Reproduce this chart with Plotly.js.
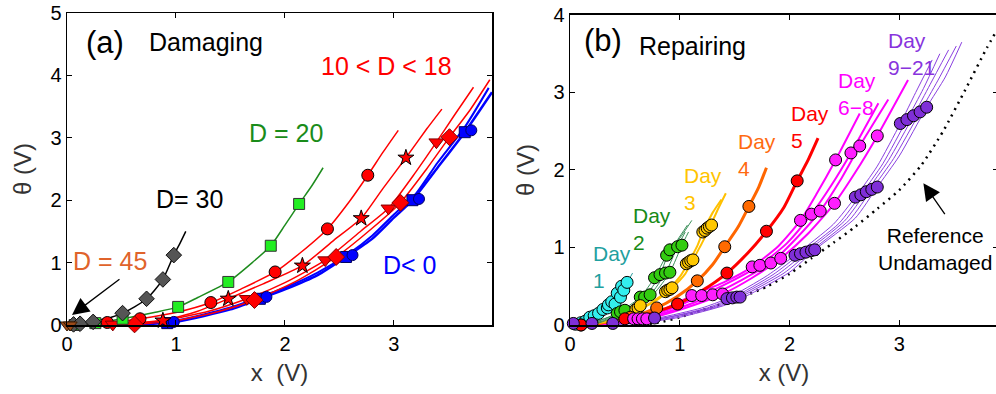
<!DOCTYPE html>
<html><head><meta charset="utf-8">
<script src="https://cdn.plot.ly/plotly-3.0.1.min.js"></script>
<style>html,body{margin:0;padding:0;overflow:hidden;background:#fff}#chart{width:1000px;height:394px}</style>
</head><body><div id="chart"></div>
<script>
// ---------------- Panel (a) Damaging ----------------
const aBlueX1 = [0,0.5,1.0,1.5,1.77,2.0,2.3,2.56,2.8,3.0,3.17,3.4,3.65,3.9];
const aBlueY1 = [0,0.0,0.05,0.25,0.42,0.57,0.8,1.09,1.38,1.72,2.0,2.52,3.09,3.73];
const aBlueX2 = [0,0.5,1.0,1.5,1.8,2.0,2.3,2.6,2.8,3.0,3.2,3.4,3.65,3.87];
const aBlueY2 = [0,0.01,0.07,0.28,0.47,0.6,0.84,1.16,1.43,1.77,2.1,2.6,3.17,3.8];
const aBlueSqX = [0.92,1.77,2.56,3.17,3.65];
const aBlueSqY = [0.03,0.42,1.09,2.0,3.09];
const aBlueCiX = [0.98,1.83,2.62,3.23,3.71];
const aBlueCiY = [0.05,0.45,1.12,2.02,3.12];

const aRedCircX = [0,0.3,0.67,1.0,1.32,1.6,1.91,2.15,2.39,2.6,2.76,2.9,3.04];
const aRedCircY = [0,0.02,0.1,0.2,0.36,0.58,0.85,1.17,1.54,2.0,2.40,2.77,3.12];
const aRedCircMX = [0.37,0.67,1.32,1.91,2.39,2.76];
const aRedCircMY = [0.04,0.1,0.36,0.85,1.54,2.40];

const aRedStarX = [0,0.5,0.88,1.2,1.48,1.8,2.16,2.45,2.70,2.9,3.11,3.3,3.44];
const aRedStarY = [0,0.02,0.07,0.22,0.42,0.66,0.95,1.36,1.71,2.19,2.68,3.14,3.46];
const aRedStarMX = [0.88,1.48,2.16,2.70,3.11];
const aRedStarMY = [0.07,0.42,0.95,1.71,2.68];

const aRedTriX = [0,0.42,0.9,1.3,1.65,2.0,2.37,2.7,2.95,3.2,3.39,3.55,3.73];
const aRedTriY = [0,0.01,0.08,0.22,0.42,0.68,1.04,1.51,1.87,2.45,2.93,3.35,3.81];
const aRedTriMX = [0.42,1.65,2.37,2.95,3.39];
const aRedTriMY = [0.01,0.42,1.04,1.87,2.93];

const aRedDiaX = [0,0.6,1.0,1.4,1.72,2.1,2.47,2.8,3.06,3.3,3.51,3.7,3.88];
const aRedDiaY = [0,0.01,0.07,0.22,0.4,0.7,1.09,1.55,1.96,2.5,3.01,3.45,3.93];
const aRedDiaMX = [0.62,1.72,2.47,3.06,3.51];
const aRedDiaMY = [0.01,0.4,1.09,1.96,3.01];

const aGreenX = [0,0.26,0.51,0.8,1.02,1.2,1.48,1.7,1.87,2.0,2.13,2.25,2.35];
const aGreenY = [0,0.03,0.1,0.2,0.29,0.44,0.69,1.0,1.27,1.6,1.94,2.24,2.52];
const aGreenMX = [0.07,0.26,0.51,1.02,1.48,1.87,2.13];
const aGreenMY = [0.0,0.03,0.1,0.29,0.69,1.27,1.94];

const aBlackX = [0,0.14,0.24,0.4,0.51,0.62,0.73,0.8,0.88,0.98,1.04,1.09];
const aBlackY = [0,0.03,0.06,0.12,0.19,0.29,0.42,0.55,0.73,1.12,1.32,1.5];
const aBlackMX = [0.06,0.12,0.24,0.51,0.73,0.88,0.98];
const aBlackMY = [0.01,0.02,0.05,0.19,0.42,0.73,1.12];

const aBrownX = [0,0.03,0.1];
const aBrownY = [0,0,0.01];

// ---------------- Panel (b) Repairing ----------------
const bRefX = [0.6,0.8,1.0,1.2,1.4,1.6,1.8,2.0,2.2,2.4,2.6,2.8,3.0,3.2,3.4,3.6,3.8,3.88];
const bRefY = [0.0,0.03,0.1,0.19,0.28,0.38,0.5,0.66,0.86,1.06,1.27,1.5,1.74,2.06,2.5,3.03,3.58,3.78];

const bPurX1 = [0,0.4,0.8,1.2,1.43,1.8,2.05,2.4,2.6,2.8,3.01,3.15,3.3];
const bPurY1 = [0,0.02,0.09,0.22,0.34,0.64,0.9,1.3,1.65,2.05,2.6,3.0,3.42];
const bPurX2 = [0,0.45,0.85,1.25,1.48,1.85,2.1,2.45,2.65,2.85,3.07,3.22,3.37];
const bPurY2 = [0,0.02,0.09,0.22,0.35,0.65,0.92,1.31,1.68,2.08,2.65,3.05,3.5];
const bPurX3 = [0,0.5,0.9,1.3,1.52,1.9,2.15,2.5,2.7,2.9,3.13,3.28,3.45];
const bPurY3 = [0,0.02,0.1,0.23,0.36,0.66,0.94,1.34,1.72,2.12,2.7,3.1,3.55];
const bPurX4 = [0,0.55,0.95,1.35,1.55,1.95,2.2,2.55,2.75,2.95,3.19,3.35,3.52];
const bPurY4 = [0,0.02,0.1,0.24,0.36,0.67,0.96,1.36,1.75,2.15,2.75,3.15,3.6];
const bPurX5 = [0,0.6,1.0,1.4,1.6,2.0,2.23,2.6,2.8,3.0,3.25,3.42,3.57];
const bPurY5 = [0,0.02,0.1,0.25,0.37,0.68,0.97,1.38,1.78,2.18,2.81,3.2,3.65];
const bPurMX = [0.03,0.2,0.39,0.77,1.43,1.48,1.52,1.55,2.05,2.1,2.15,2.2,2.23,2.6,2.65,2.7,2.75,2.8,3.01,3.07,3.13,3.19,3.25];
const bPurMY = [0.02,0.02,0.02,0.09,0.34,0.35,0.36,0.36,0.9,0.92,0.94,0.96,0.97,1.65,1.68,1.72,1.75,1.78,2.6,2.65,2.7,2.75,2.81];

const bMagX1 = [0,0.3,0.58,0.85,1.11,1.4,1.66,1.9,2.1,2.25,2.42,2.64];
const bMagY1 = [0,0.02,0.08,0.2,0.38,0.55,0.75,1.02,1.35,1.7,2.13,2.73];
const bMagX2 = [0,0.3,0.62,0.9,1.2,1.45,1.73,1.98,2.2,2.38,2.56,2.81];
const bMagY2 = [0,0.02,0.08,0.2,0.38,0.55,0.77,1.06,1.43,1.8,2.22,2.86];
const bMagX3 = [0,0.35,0.66,0.98,1.3,1.55,1.83,2.05,2.28,2.46,2.64,2.9];
const bMagY3 = [0,0.02,0.08,0.21,0.39,0.57,0.8,1.1,1.47,1.86,2.31,2.91];
const bMagX4 = [0,0.4,0.7,1.05,1.39,1.65,1.92,2.17,2.41,2.6,2.8,3.08];
const bMagY4 = [0,0.02,0.08,0.22,0.4,0.6,0.86,1.18,1.57,1.97,2.44,3.16];
const bMagMX = [0.58,0.62,0.66,0.7,1.11,1.2,1.3,1.39,1.66,1.73,1.83,1.92,2.1,2.2,2.28,2.41,2.42,2.56,2.64,2.8];
const bMagMY = [0.08,0.08,0.08,0.08,0.38,0.38,0.39,0.4,0.75,0.77,0.8,0.86,1.35,1.43,1.47,1.57,2.13,2.22,2.31,2.44];

const bRedX = [0,0.25,0.5,0.75,0.98,1.2,1.43,1.62,1.79,1.95,2.07,2.17,2.26];
const bRedY = [0,0.02,0.08,0.16,0.27,0.44,0.67,0.93,1.21,1.52,1.86,2.13,2.41];
const bRedMX = [0.1,0.5,0.98,1.43,1.79,2.07];
const bRedMY = [0.0,0.08,0.27,0.67,1.21,1.86];

const bOrX = [0,0.3,0.55,0.79,0.97,1.16,1.3,1.41,1.53,1.63,1.72,1.79];
const bOrY = [0,0.03,0.1,0.22,0.36,0.57,0.78,1.01,1.26,1.53,1.78,2.03];
const bOrMX = [0.55,0.79,1.16,1.41,1.63];
const bOrMY = [0.1,0.22,0.57,1.01,1.53];

const bGoldX1 = [0,0.3,0.55,0.75,0.89,1.0,1.08,1.16,1.21,1.3,1.38];
const bGoldY1 = [0,0.04,0.16,0.3,0.45,0.62,0.81,1.02,1.2,1.45,1.62];
const bGoldX2 = [0,0.32,0.6,0.8,0.93,1.05,1.12,1.2,1.27,1.35,1.42];
const bGoldY2 = [0,0.04,0.18,0.33,0.48,0.66,0.84,1.05,1.25,1.5,1.7];
const bGoldMX = [0.6,0.62,0.64,0.87,0.89,0.91,0.93,1.06,1.08,1.1,1.12,1.21,1.23,1.25,1.27,1.29];
const bGoldMY = [0.2,0.22,0.25,0.43,0.45,0.46,0.48,0.79,0.81,0.83,0.84,1.2,1.22,1.25,1.27,1.29];

const bGrnX1 = [0,0.2,0.43,0.64,0.77,0.88,0.98,1.07];
const bGrnY1 = [0,0.03,0.15,0.36,0.61,0.9,1.1,1.29];
const bGrnX2 = [0,0.22,0.46,0.68,0.82,0.91,1.0,1.11];
const bGrnY2 = [0,0.03,0.17,0.36,0.65,0.97,1.12,1.35];
const bGrnX3 = [0,0.25,0.5,0.73,0.87,0.98,1.05];
const bGrnY3 = [0,0.03,0.19,0.39,0.67,1.01,1.2];
const bGrnX4 = [0,0.27,0.52,0.76,0.91,1.02,1.08];
const bGrnY4 = [0,0.03,0.19,0.4,0.68,1.03,1.2];
const bGrnMX = [0.1,0.43,0.46,0.5,0.64,0.68,0.73,0.77,0.82,0.87,0.91,0.88,0.91,0.98,1.02];
const bGrnMY = [0.0,0.15,0.17,0.19,0.36,0.36,0.39,0.61,0.65,0.67,0.68,0.9,0.97,1.01,1.03];

const bCyX1 = [0,0.1,0.2,0.3,0.4,0.5,0.57];
const bCyY1 = [0,0.02,0.08,0.18,0.32,0.5,0.67];
const bCyX2 = [0,0.12,0.22,0.32,0.42,0.5,0.55];
const bCyY2 = [0,0.02,0.08,0.17,0.3,0.46,0.58];
const bCyX3 = [0,0.14,0.25,0.35,0.44,0.52];
const bCyY3 = [0,0.02,0.09,0.19,0.33,0.5];
const bCyX4 = [0,0.16,0.28,0.38,0.47,0.53];
const bCyY4 = [0,0.02,0.1,0.21,0.38,0.52];
const bCyMX = [0.05,0.1,0.14,0.18,0.22,0.26,0.3,0.34,0.35,0.38,0.41,0.43,0.46,0.47,0.49,0.52];
const bCyMY = [0.01,0.03,0.05,0.1,0.12,0.15,0.2,0.22,0.26,0.3,0.27,0.41,0.36,0.5,0.45,0.55];

// ---------------- helpers ----------------
const FONT = 'Liberation Sans, Arial, Helvetica, sans-serif';
function ln(x, y, color, width, ax, extra) {
  const t = {x: x, y: y, mode: 'lines', line: {color: color, width: width, shape: 'spline', smoothing: 0.6},
    xaxis: ax === 'b' ? 'x2' : 'x', yaxis: ax === 'b' ? 'y2' : 'y', hoverinfo: 'skip', cliponaxis: false};
  if (extra) Object.assign(t.line, extra);
  return t;
}
function mk(x, y, symbol, fill, size, ax, edge) {
  return {x: x, y: y, mode: 'markers', marker: {symbol: symbol, color: fill, size: size,
    line: {color: edge || '#000', width: 1}}, xaxis: ax === 'b' ? 'x2' : 'x', yaxis: ax === 'b' ? 'y2' : 'y',
    hoverinfo: 'skip', cliponaxis: false};
}

const data = [
  // panel a lines
  ln(aBlueX1, aBlueY1, '#0000FF', 2.5, 'a'),
  ln(aBlueX2, aBlueY2, '#0000FF', 2, 'a'),
  ln(aRedCircX, aRedCircY, '#FF0000', 1.5, 'a'),
  ln(aRedStarX, aRedStarY, '#FF0000', 1.5, 'a'),
  ln(aRedTriX, aRedTriY, '#FF0000', 1.5, 'a'),
  ln(aRedDiaX, aRedDiaY, '#FF0000', 1.5, 'a'),
  ln(aGreenX, aGreenY, '#1E8C1E', 1.5, 'a'),
  ln(aBlackX, aBlackY, '#000000', 1.5, 'a'),
  ln(aBrownX, aBrownY, '#8B3A0F', 1.5, 'a'),
  // panel a markers
  mk(aBlueSqX, aBlueSqY, 'square', '#0000FF', 11, 'a', '#000060'),
  mk(aBlueCiX, aBlueCiY, 'circle', '#0000FF', 11, 'a', '#000060'),
  mk(aRedCircMX, aRedCircMY, 'circle', '#FF0000', 12, 'a'),
  mk(aRedStarMX, aRedStarMY, 'star', '#FF0000', 12, 'a'),
  mk(aRedTriMX, aRedTriMY, 'triangle-down', '#FF0000', 13, 'a', '#800000'),
  mk(aRedDiaMX, aRedDiaMY, 'diamond', '#FF0000', 13, 'a', '#800000'),
  mk(aGreenMX, aGreenMY, 'square', '#22EE22', 11, 'a', '#333'),
  mk(aBlackMX, aBlackMY, 'diamond', '#555555', 12, 'a', '#111'),
  mk(aBrownX.slice(0,2), aBrownY.slice(0,2), 'triangle-down', '#9A4A1A', 12, 'a', '#3a1a00'),
  // panel b lines
  ln(bRefX, bRefY, '#000000', 2.5, 'b', {dash: '2px,5px'}),
  ln(bPurX1, bPurY1, '#8A3FE0', 1, 'b'),
  ln(bPurX2, bPurY2, '#8A3FE0', 1, 'b'),
  ln(bPurX3, bPurY3, '#8A3FE0', 1, 'b'),
  ln(bPurX4, bPurY4, '#8A3FE0', 1, 'b'),
  ln(bPurX5, bPurY5, '#8A3FE0', 1, 'b'),
  ln(bMagX1, bMagY1, '#FF00FF', 2, 'b'),
  ln(bMagX2, bMagY2, '#FF00FF', 2, 'b'),
  ln(bMagX3, bMagY3, '#FF00FF', 2, 'b'),
  ln(bMagX4, bMagY4, '#FF00FF', 2, 'b'),
  ln(bRedX, bRedY, '#FF0000', 3, 'b'),
  ln(bOrX, bOrY, '#FF6600', 3, 'b'),
  ln(bGoldX1, bGoldY1, '#FFC000', 2, 'b'),
  ln(bGoldX2, bGoldY2, '#FFC000', 2, 'b'),
  ln(bGrnX1, bGrnY1, '#3A8F5A', 1, 'b'),
  ln(bGrnX2, bGrnY2, '#3A8F5A', 1, 'b'),
  ln(bGrnX3, bGrnY3, '#3A8F5A', 1, 'b'),
  ln(bGrnX4, bGrnY4, '#3A8F5A', 1, 'b'),
  ln(bCyX1, bCyY1, '#2A9D9D', 1, 'b'),
  ln(bCyX2, bCyY2, '#2A9D9D', 1, 'b'),
  ln(bCyX3, bCyY3, '#2A9D9D', 1, 'b'),
  ln(bCyX4, bCyY4, '#2A9D9D', 1, 'b'),
  // panel b markers
  mk(bCyMX, bCyMY, 'circle', '#33EEEE', 12, 'b'),
  mk(bGrnMX, bGrnMY, 'circle', '#33CC11', 12, 'b'),
  mk(bGoldMX, bGoldMY, 'circle', '#FFC800', 12, 'b'),
  mk(bOrMX, bOrMY, 'circle', '#FF6A00', 12, 'b'),
  mk(bRedMX, bRedMY, 'circle', '#FF0000', 12, 'b'),
  mk(bMagMX, bMagMY, 'circle', '#FF1EFF', 12, 'b'),
  mk(bPurMX, bPurMY, 'circle', '#7F2FD8', 12, 'b')
];

function txt(x, y, text, color, size, ax, xanchor) {
  return {x: x, y: y, xref: ax === 'b' ? 'x2' : 'x', yref: ax === 'b' ? 'y2' : 'y', text: text,
    showarrow: false, xanchor: xanchor || 'left', yanchor: 'middle', align: xanchor === 'center' ? 'center' : 'left',
    borderpad: 0, font: {family: FONT, size: size, color: color}};
}
function arrow(xTip, yTip, xTail, yTail, ax) {
  const xr = ax === 'b' ? 'x2' : 'x', yr = ax === 'b' ? 'y2' : 'y';
  return {x: xTip, y: yTip, ax: xTail, ay: yTail, xref: xr, yref: yr, axref: xr, ayref: yr, text: ' ',
    font: {size: 1}, borderpad: 0, standoff: 0, startstandoff: 0,
    showarrow: true, arrowhead: 2, arrowsize: 2.6, arrowwidth: 1.3, arrowcolor: '#000'};
}

const annotations = [
  txt(0.165, 4.53, '(a)', '#000', 31, 'a'),
  txt(0.743, 4.53, 'Damaging', '#000', 25, 'a'),
  txt(2.32, 4.15, '10 &lt; D &lt; 18', '#FF0000', 25, 'a'),
  txt(1.66, 3.08, 'D = 20', '#1A8C1A', 25, 'a'),
  txt(0.807, 2.02, 'D= 30', '#000', 25, 'a'),
  txt(0.046, 1.03, 'D = 45', '#E0632B', 25, 'a'),
  txt(2.89, 0.96, 'D&lt; 0', '#0000FF', 25, 'a'),
  arrow(0.046, 0.16, 0.486, 0.74, 'a'),
  txt(0.12, 3.67, '(b)', '#000', 31, 'b'),
  txt(0.62, 3.6, 'Repairing', '#000', 25, 'b'),
  txt(0.2, 0.745, 'Day<br>1', '#1FA0A0', 21, 'b'),
  txt(0.565, 1.235, 'Day<br>2', '#178A17', 21, 'b'),
  txt(1.03, 1.75, 'Day<br>3', '#FFC400', 21, 'b'),
  txt(1.522, 2.19, 'Day<br>4', '#FF6A10', 21, 'b'),
  txt(2.005, 2.55, 'Day<br>5', '#FF0000', 21, 'b'),
  txt(2.434, 2.975, 'Day<br>6−8', '#FF00FF', 21, 'b'),
  txt(2.89, 3.5, 'Day<br>9−21', '#8833DD', 21, 'b'),
  txt(3.33, 0.985, 'Reference<br>Undamaged', '#000', 21, 'b', 'center'),
  arrow(3.22, 1.83, 3.42, 1.42, 'b')
];

function axis(extra) {
  return Object.assign({showline: true, linecolor: '#000', linewidth: 1.5, mirror: 'ticks', ticks: 'inside',
    ticklen: 5, tickwidth: 1, tickcolor: '#000', showgrid: false, zeroline: false,
    tickfont: {family: FONT, size: 20, color: '#000'}}, extra);
}

const layout = {
  width: 1000, height: 394,
  margin: {l: 67, r: 2, t: 13, b: 69},
  paper_bgcolor: '#fff', plot_bgcolor: '#fff', showlegend: false,
  font: {family: FONT, color: '#000'},
  xaxis: axis({domain: [0, 0.4565], range: [0, 3.9], tickvals: [0, 1, 2, 3], anchor: 'y',
    title: {text: 'x  (V)', font: {family: FONT, size: 24, color: '#333'}, standoff: 10}}),
  yaxis: axis({domain: [0, 1], range: [0, 5], tickvals: [0, 1, 2, 3, 4, 5], anchor: 'x',
    title: {text: 'θ (V)', font: {family: FONT, size: 24, color: '#333'}, standoff: 12}}),
  xaxis2: axis({domain: [0.5403, 1], range: [0, 3.9], tickvals: [0, 1, 2, 3], anchor: 'y2',
    title: {text: 'x (V)', font: {family: FONT, size: 24, color: '#333'}, standoff: 10}}),
  yaxis2: axis({domain: [0, 0.9936], range: [0, 4], tickvals: [0, 1, 2, 3, 4], anchor: 'x2',
    title: {text: 'θ (V)', font: {family: FONT, size: 24, color: '#333'}, standoff: 12}}),
  annotations: annotations
};

Plotly.newPlot('chart', data, layout, {staticPlot: true, displayModeBar: false});
</script></body></html>
